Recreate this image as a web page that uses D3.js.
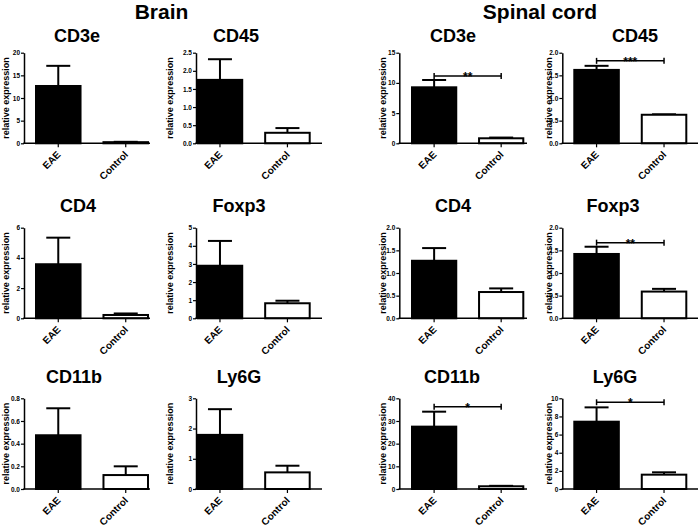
<!DOCTYPE html>
<html><head><meta charset="utf-8">
<script src="https://cdn.jsdelivr.net/npm/d3@7"></script>
<style>body{margin:0;background:#fff}</style>
</head><body><svg id="c" width="700" height="530"></svg>
<script>
// ---- data ----
const sectionTitles = ["Brain", "Spinal cord"];
const panelTitles = ["CD3e", "CD45", "CD3e", "CD45", "CD4", "Foxp3", "CD4", "Foxp3", "CD11b", "Ly6G", "CD11b", "Ly6G"];
const groups = ["EAE", "Control"];
const eaeMean = [12.65, 1.75, 9.27, 1.62, 3.58, 2.90, 1.27, 1.42, 0.474, 1.79, 27.5, 7.42];
const eaeSem  = [4.45, 0.57, 1.21, 0.09, 1.76, 1.37, 0.28, 0.16, 0.238, 0.85, 6.6, 1.58];
const ctrlMean = [0.25, 0.29, 0.83, 0.63, 0.22, 0.83, 0.58, 0.59, 0.123, 0.55, 1.2, 1.58];
const ctrlSem  = [0.08, 0.13, 0.12, 0.01, 0.10, 0.14, 0.08, 0.06, 0.077, 0.22, 0.2, 0.26];
const yTickLabels = [
  ["0", "5", "10", "15", "20"],
  ["0.0", "0.5", "1.0", "1.5", "2.0", "2.5"],
  ["0", "5", "10", "15"],
  ["0.0", "0.5", "1.0", "1.5", "2.0"],
  ["0", "2", "4", "6"],
  ["0", "1", "2", "3", "4", "5"],
  ["0.0", "0.5", "1.0", "1.5", "2.0"],
  ["0.0", "0.5", "1.0", "1.5", "2.0"],
  ["0.0", "0.2", "0.4", "0.6", "0.8"],
  ["0", "1", "2", "3"],
  ["0", "10", "20", "30", "40"],
  ["0", "2", "4", "6", "8", "10"]
];
const sigStars = ["", "", "**", "***", "", "", "", "**", "", "", "*", "*"];
const sigLevel = [null, null, 11.15, 1.82, null, null, null, 1.67, null, null, 36.3, 9.56];
const yLabel = "relative expression";

// ---- layout ----
const FONT = "'Liberation Sans', Arial, Helvetica, sans-serif";
const cols = [
  {ax: 24,    b0: 36,    b1: 148,   end: 150, lab: 6},
  {ax: 196,   b0: 197.7, b1: 309.7, end: 322, lab: 170},
  {ax: 399.3, b0: 412,   b1: 523.3, end: 527, lab: 383.3},
  {ax: 562.3, b0: 574.3, b1: 686.3, end: 698, lab: 549}
];
const rows = [
  {top: 52.7,  bot: 143.3, ty: 41.5},
  {top: 227.7, bot: 318.3, ty: 212},
  {top: 398.3, bot: 489,   ty: 383}
];
const titleX = [77, 236, 453, 635, 78, 239, 453, 613, 74, 239, 452, 615];
const sectionX = [161.5, 540];

const svg = d3.select("#c");
svg.append("rect").attr("width", 700).attr("height", 530).attr("fill", "#fff");

svg.selectAll("text.section").data(sectionTitles).join("text")
  .attr("class", "section")
  .attr("x", (d, i) => sectionX[i]).attr("y", 18.5)
  .attr("text-anchor", "middle")
  .style("font", `bold 21px ${FONT}`)
  .text(d => d);

panelTitles.forEach((name, i) => {
  const r = rows[Math.floor(i / 4)], c = cols[i % 4];
  const tickVals = yTickLabels[i].map(Number);
  const y = d3.scaleLinear().domain([0, d3.max(tickVals)]).range([r.bot, r.top]);
  const x = d3.scaleBand().domain(groups).range([c.b0, c.b1]).paddingInner(0.34).paddingOuter(0);
  const bw = x.bandwidth();
  const g = svg.append("g");

  g.append("text").attr("x", titleX[i]).attr("y", r.ty)
    .attr("text-anchor", "middle")
    .style("font", `bold 18px ${FONT}`).text(name);

  // y axis
  const ya = g.append("g").attr("transform", `translate(${c.ax},0)`)
    .call(d3.axisLeft(y).tickValues(tickVals)
      .tickFormat((d, k) => yTickLabels[i][k])
      .tickSize(3).tickSizeOuter(0).tickPadding(1));
  ya.select(".domain").attr("stroke-width", 1.5);
  ya.selectAll(".tick line").attr("stroke-width", 1.2);
  ya.selectAll(".tick text").style("font", `bold 6.5px ${FONT}`);

  g.append("text")
    .attr("transform", `translate(${c.lab},${(r.top + r.bot) / 2}) rotate(-90)`)
    .attr("text-anchor", "middle").attr("dy", "0.35em")
    .style("font", `bold 9px ${FONT}`).text(yLabel);

  const means = [eaeMean[i], ctrlMean[i]];
  const sems = [eaeSem[i], ctrlSem[i]];
  const data = groups.map((gname, k) => ({g: gname, m: means[k], s: sems[k]}));

  // error bars (upper)
  const eb = g.selectAll("g.err").data(data).join("g").attr("class", "err");
  eb.append("line")
    .attr("x1", d => x(d.g) + bw / 2).attr("x2", d => x(d.g) + bw / 2)
    .attr("y1", d => y(d.m)).attr("y2", d => y(d.m + d.s))
    .attr("stroke", "#000").attr("stroke-width", 2);
  eb.append("line")
    .attr("x1", d => x(d.g) + bw / 2 - 12).attr("x2", d => x(d.g) + bw / 2 + 12)
    .attr("y1", d => y(d.m + d.s)).attr("y2", d => y(d.m + d.s))
    .attr("stroke", "#000").attr("stroke-width", 2);

  // bars
  g.selectAll("rect.bar").data(data).join("rect").attr("class", "bar")
    .attr("x", d => x(d.g)).attr("width", bw)
    .attr("y", d => y(d.m)).attr("height", d => y(0) - y(d.m))
    .attr("fill", (d, k) => k === 0 ? "#000" : "#fff")
    .attr("stroke", "#000").attr("stroke-width", 2);

  // x axis
  const xa = g.append("g").attr("transform", `translate(0,${r.bot})`)
    .call(d3.axisBottom(x).tickSize(4).tickSizeOuter(0));
  xa.select(".domain").remove();
  xa.selectAll(".tick line").attr("stroke-width", 1.2);
  xa.selectAll(".tick text")
    .attr("x", null).attr("y", null).attr("dy", null)
    .attr("transform", "translate(3,12) rotate(-45)")
    .attr("text-anchor", "end")
    .style("font", `bold 10px ${FONT}`);
  g.append("line").attr("x1", c.ax - 0.75).attr("x2", c.end)
    .attr("y1", r.bot).attr("y2", r.bot)
    .attr("stroke", "#000").attr("stroke-width", 1.5);

  // significance bracket
  if (sigLevel[i] !== null) {
    const xa0 = x(groups[0]) + bw / 2, xa1 = x(groups[1]) + bw / 2, yy = y(sigLevel[i]);
    g.append("line").attr("x1", xa0).attr("x2", xa1).attr("y1", yy).attr("y2", yy)
      .attr("stroke", "#000").attr("stroke-width", 1.5);
    [xa0, xa1].forEach(xx => g.append("line").attr("x1", xx).attr("x2", xx)
      .attr("y1", yy - 3).attr("y2", yy + 3).attr("stroke", "#000").attr("stroke-width", 1.5));
    g.append("text").attr("x", (xa0 + xa1) / 2).attr("y", yy + 5)
      .attr("text-anchor", "middle").style("font", `bold 12px ${FONT}`)
      .text(sigStars[i]);
  }
});
</script>
</body></html>
